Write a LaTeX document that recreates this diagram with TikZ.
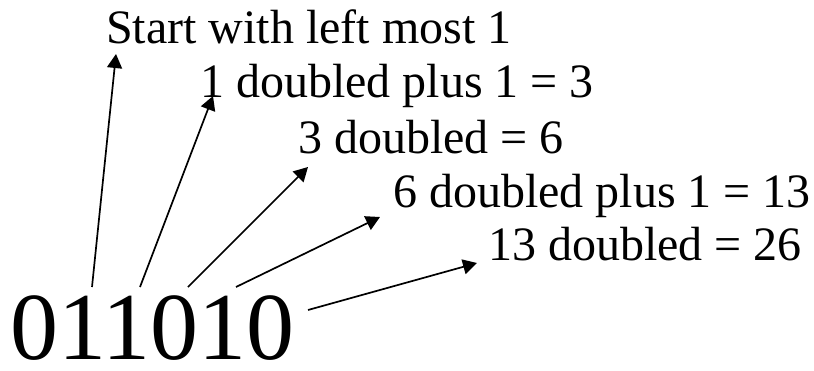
\documentclass[tikz,border=0pt]{standalone}
\usepackage{fontspec}
\setmainfont{Liberation Serif}
\usetikzlibrary{arrows.meta}
\begin{document}
\begin{tikzpicture}[x=1pt,y=-1pt,
  lbl/.style={anchor=base west,inner sep=0pt,font=\fontsize{48}{58}\selectfont},
  big/.style={anchor=base west,inner sep=0pt,font=\fontsize{96}{110}\selectfont},
  arr/.style={line width=1.7pt,-{Triangle[length=14pt,width=15pt]}}]
\useasboundingbox (0,0) rectangle (814,370);
\node[big] (num) at (10,359) {011010};
\node[lbl] (l1) at (106,43) {Start with left most 1};
\node[lbl] (l2) at (200,97) {1 doubled plus 1 = 3};
\node[lbl] (l3) at (298,153) {3 doubled = 6};
\node[lbl] (l4) at (393,207) {6 doubled plus 1 = 13};
\node[lbl] (l5) at (488,260) {13 doubled = 26};
\coordinate (s1) at (92,287);
\coordinate (s2) at (140,287);
\coordinate (s3) at (188,287);
\coordinate (s4) at (236,287);
\coordinate (s5) at (308,310);
\coordinate (t1) at (116,54);
\coordinate (t2) at (213,96);
\coordinate (t3) at (308,167);
\coordinate (t4) at (380,217);
\coordinate (t5) at (477,263);
\draw[arr] (s1) -- (t1);
\draw[arr] (s2) -- (t2);
\draw[arr] (s3) -- (t3);
\draw[arr] (s4) -- (t4);
\draw[arr] (s5) -- (t5);
\end{tikzpicture}
\end{document}
